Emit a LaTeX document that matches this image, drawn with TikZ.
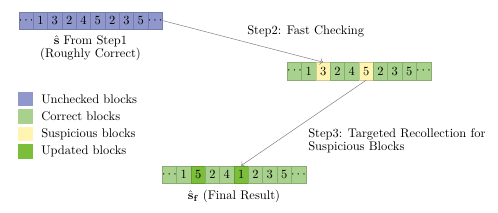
\documentclass[tikz,border=0pt]{standalone}
\usetikzlibrary{arrows.meta,positioning,shapes}
\definecolor{unchk}{RGB}{143,151,204}
\definecolor{corr}{RGB}{169,209,142}
\definecolor{susp}{RGB}{255,244,176}
\definecolor{upd}{RGB}{122,190,58}
\tikzset{
  cell/.style={draw=#1!82!black,fill=#1,minimum width=11.46pt,minimum height=14pt,inner sep=0pt},
  key/.style={fill=#1,minimum width=12pt,minimum height=11.4pt,inner sep=0pt},
  lbl/.style={inner sep=0pt,align=left,font=\fontsize{10}{10.4}\selectfont}
}

\begin{document}
\begin{tikzpicture}[x=0.8pt,y=-0.8pt]
\useasboundingbox (0,0) rectangle (498,213);
% rows of blocks
\foreach \v/\c [count=\i from 0] in {\cdots/unchk,1/unchk,3/unchk,2/unchk,4/unchk,5/unchk,2/unchk,3/unchk,5/unchk,\cdots/unchk}
  \node[cell=\c] (t\i) at (26.2+14.33*\i,20.6) {$\v$};
\foreach \v/\c [count=\i from 0] in {\cdots/corr,1/corr,3/susp,2/corr,4/corr,5/susp,2/corr,3/corr,5/corr,\cdots/corr}
  \node[cell=\c] (m\i) at (294.5+14.33*\i,71.2) {$\v$};
\foreach \v/\c [count=\i from 0] in {\cdots/corr,1/corr,5/upd,2/corr,4/corr,1/upd,2/corr,3/corr,5/corr,\cdots/corr}
  \node[cell=\c] (b\i) at (169.5+14.33*\i,174.6) {$\v$};
\node[lbl,align=center] (tl) at (90.5,48.5) {$\hat{\mathbf{s}}$ From Step1\\(Roughly Correct)};
\node[lbl] (bl) at (234,196.5) {$\hat{\mathbf{s}}_{\mathbf{f}}$ (Final Result)};
% legend
\node[key=unchk] (k1) at (25.8,99) {};
\node[key=corr] (k2) at (25.8,116.5) {};
\node[key=susp] (k3) at (25.8,134) {};
\node[key=upd] (k4) at (25.8,151.5) {};
\node[lbl,anchor=west] at (41,99) {Unchecked blocks};
\node[lbl,anchor=west] at (41,116.5) {Correct blocks};
\node[lbl,anchor=west] at (41,134) {Suspicious blocks};
\node[lbl,anchor=west] at (41,151.5) {Updated blocks};
% steps
\draw[->,gray] (t9.east) -- (m2.north);
\draw[->,gray] (m5.south) -- (b5.north);
\node[lbl,anchor=west] (s2) at (247,31.7) {Step2: Fast Checking};
\node[lbl,anchor=west] (s3) at (308,140.5) {Step3: Targeted Recollection for\\Suspicious Blocks};
\end{tikzpicture}
\end{document}
